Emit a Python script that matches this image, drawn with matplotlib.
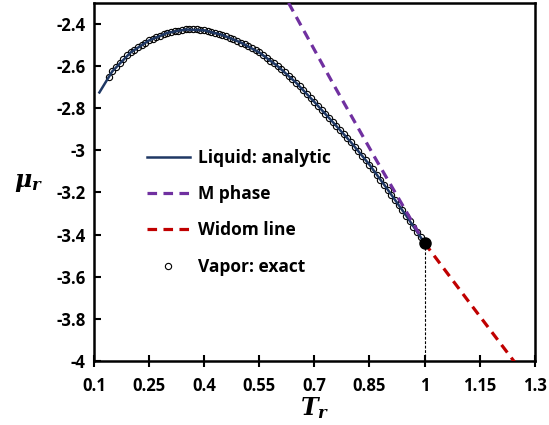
import matplotlib.pyplot as plt

plt.rcParams['font.family'] = ['Open Sans', 'DejaVu Sans']
plt.rcParams['mathtext.fontset'] = 'custom'
plt.rcParams['mathtext.it'] = 'DejaVu Serif:italic:bold'
plt.rcParams['mathtext.rm'] = 'DejaVu Serif:bold'

# Liquid: analytic
t_liq = [0.115, 0.15, 0.20, 0.25, 0.30, 0.35, 0.40, 0.45, 0.50, 0.55,
         0.60, 0.65, 0.70, 0.75, 0.80, 0.85, 0.90, 0.95, 1.00]
mu_liq = [-2.725, -2.625, -2.535, -2.478, -2.442, -2.426, -2.430, -2.452, -2.488, -2.535,
          -2.600, -2.678, -2.770, -2.865, -2.962, -3.068, -3.187, -3.310, -3.440]

# M phase
t_m = [0.63, 0.75, 0.87, 1.00]
mu_m = [-2.30, -2.68, -3.05, -3.44]

# Widom line
t_w = [1.00, 1.12, 1.25]
mu_w = [-3.44, -3.718, -4.017]

# Vapor: exact
t_vap = [0.14, 0.15, 0.16, 0.17, 0.18, 0.19, 0.20, 0.21, 0.22, 0.23,
         0.24, 0.25, 0.26, 0.27, 0.28, 0.29, 0.30, 0.31, 0.32, 0.33,
         0.34, 0.35, 0.36, 0.37, 0.38, 0.39, 0.40, 0.41, 0.42, 0.43,
         0.44, 0.45, 0.46, 0.47, 0.48, 0.49, 0.50, 0.51, 0.52, 0.53,
         0.54, 0.55, 0.56, 0.57, 0.58, 0.59, 0.60, 0.61, 0.62, 0.63,
         0.64, 0.65, 0.66, 0.67, 0.68, 0.69, 0.70, 0.71, 0.72, 0.73,
         0.74, 0.75, 0.76, 0.77, 0.78, 0.79, 0.80, 0.81, 0.82, 0.83,
         0.84, 0.85, 0.86, 0.87, 0.88, 0.89, 0.90, 0.91, 0.92, 0.93,
         0.94, 0.95, 0.96, 0.97, 0.98, 0.99, 1.00]
mu_vap = [-2.650, -2.625, -2.603, -2.583, -2.565, -2.549, -2.535, -2.522, -2.510, -2.498,
          -2.488, -2.478, -2.470, -2.462, -2.455, -2.448, -2.442, -2.438, -2.434, -2.431,
          -2.428, -2.426, -2.425, -2.425, -2.426, -2.428, -2.430, -2.434, -2.438, -2.442,
          -2.447, -2.452, -2.459, -2.466, -2.473, -2.480, -2.488, -2.497, -2.506, -2.515,
          -2.525, -2.535, -2.548, -2.561, -2.574, -2.587, -2.600, -2.615, -2.630, -2.646,
          -2.662, -2.678, -2.696, -2.714, -2.733, -2.751, -2.770, -2.789, -2.808, -2.827,
          -2.846, -2.865, -2.884, -2.903, -2.923, -2.942, -2.962, -2.983, -3.004, -3.025,
          -3.046, -3.068, -3.091, -3.115, -3.139, -3.163, -3.187, -3.211, -3.236, -3.260,
          -3.285, -3.310, -3.336, -3.362, -3.388, -3.414, -3.440]

# punto critico
t_c = [1.0]
mu_c = [-3.44]

x_ticks = [0.1, 0.25, 0.4, 0.55, 0.7, 0.85, 1, 1.15, 1.3]
x_labels = ['0.1', '0.25', '0.4', '0.55', '0.7', '0.85', '1', '1.15', '1.3']
y_ticks = [-4, -3.8, -3.6, -3.4, -3.2, -3, -2.8, -2.6, -2.4]
y_labels = ['-4', '-3.8', '-3.6', '-3.4', '-3.2', '-3', '-2.8', '-2.6', '-2.4']

fig = plt.figure(figsize=(5.49, 4.25), dpi=100)
ax = fig.add_axes([0.171, 0.151, 0.803, 0.842])

# Curvas
ax.plot(t_vap, mu_vap, 'o', ms=4.5, mfc='none', mec='black', mew=0.8,
        zorder=2, label='Vapor: exact')
ax.plot(t_liq, mu_liq, '-', color='#1F3864', lw=1.8, zorder=3,
        label='Liquid: analytic')
ax.plot(t_m, mu_m, '--', color='#7030A0', lw=2.3, dashes=(3, 2), zorder=4,
        label='M phase')
ax.plot(t_w, mu_w, '--', color='#C00000', lw=2.3, dashes=(3, 2), zorder=4,
        label='Widom line')
ax.plot(t_c, mu_c, 'o', ms=8, color='black', zorder=5)
ax.plot([t_c[0], t_c[0]], [mu_c[0], -4], '--', color='black', lw=0.8,
        dashes=(2.5, 1.5), zorder=1)

ax.set_xlim(0.1, 1.3)
ax.set_ylim(-4, -2.3)
ax.set_xticks(x_ticks)
ax.set_xticklabels(x_labels)
ax.set_yticks(y_ticks)
ax.set_yticklabels(y_labels)
ax.tick_params(axis='x', direction='inout', length=8, width=1.5, pad=8,
               labelsize=12)
ax.tick_params(axis='y', direction='in', length=5, width=1.5, pad=6,
               labelsize=12)
for lbl in ax.get_xticklabels() + ax.get_yticklabels():
    lbl.set_fontweight('bold')
for s in ax.spines.values():
    s.set_linewidth(1.8)

ax.set_xlabel(r'$T_r$', fontsize=17, labelpad=0)
ax.set_ylabel(r'$\mu_r$', fontsize=17, rotation=0, labelpad=20, va='center')

# Leyenda en el orden del original
h, l = ax.get_legend_handles_labels()
orden = [1, 2, 3, 0]
leg = ax.legend([h[i] for i in orden], [l[i] for i in orden],
                loc='upper left', bbox_to_anchor=(0.12, 0.592), frameon=False,
                borderpad=0, borderaxespad=0, handlelength=2.5,
                handletextpad=0.45, labelspacing=1.05,
                prop={'weight': 'bold', 'size': 12.5})

fig.savefig('out.png', dpi=100)
